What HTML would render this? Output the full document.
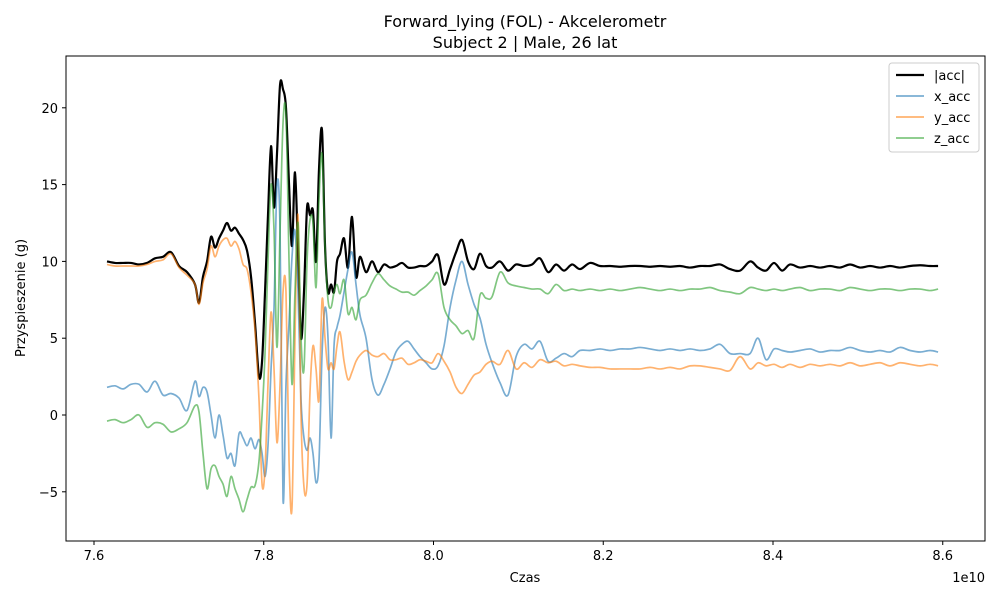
<!DOCTYPE html>
<html><head><meta charset="utf-8"><style>
body{margin:0;background:#fff;font-family:"Liberation Sans","DejaVu Sans",sans-serif}
svg text{font-family:"DejaVu Sans","Liberation Sans",sans-serif;fill:#000}
</style></head><body>
<svg id="chart" width="1000" height="600" viewBox="0 0 1000 600" xmlns="http://www.w3.org/2000/svg">
<rect width="1000" height="600" fill="#fff"/>
<text x="525" y="27" font-size="16" text-anchor="middle">Forward_lying (FOL) - Akcelerometr</text>
<text x="525" y="48" font-size="16" text-anchor="middle">Subject 2 | Male, 26 lat</text>
<g id="plot"></g>
<rect x="66" y="56" width="919" height="485" fill="none" stroke="#000" stroke-width="1"/>
<g id="axes"></g>
<text x="525" y="582" font-size="13" text-anchor="middle">Czas</text>
<text x="985" y="582" font-size="13" text-anchor="end">1e10</text>
<text transform="translate(25,298) rotate(-90)" font-size="13" text-anchor="middle">Przyspieszenie (g)</text>
<g>
<rect x="889" y="63" width="90" height="89" fill="#fff" fill-opacity="0.8" stroke="#ccc" rx="3"/>
<line x1="896" y1="75" x2="924" y2="75" stroke="#000" stroke-width="2.2"/>
<text x="934" y="80" font-size="13">|acc|</text>
<line x1="896" y1="96" x2="924" y2="96" stroke="#1f77b4" stroke-opacity="0.6" stroke-width="1.8"/>
<text x="934" y="101" font-size="13">x_acc</text>
<line x1="896" y1="117" x2="924" y2="117" stroke="#ff7f0e" stroke-opacity="0.6" stroke-width="1.8"/>
<text x="934" y="122" font-size="13">y_acc</text>
<line x1="896" y1="138" x2="924" y2="138" stroke="#2ca02c" stroke-opacity="0.6" stroke-width="1.8"/>
<text x="934" y="143" font-size="13">z_acc</text>
</g>
</svg>
<script>
const times=[7.6153,7.6247,7.6342,7.6436,7.6530,7.6625,7.6719,7.6813,7.6907,7.7002,7.7096,7.7190,7.7237,7.7284,7.7332,7.7379,7.7426,7.7473,7.7520,7.7567,7.7614,7.7661,7.7709,7.7756,7.7803,7.7850,7.7897,7.7944,7.7980,7.8015,7.8050,7.8086,7.8121,7.8156,7.8192,7.8227,7.8262,7.8298,7.8333,7.8368,7.8404,7.8439,7.8474,7.8510,7.8545,7.8580,7.8616,7.8651,7.8687,7.8722,7.8757,7.8793,7.8828,7.8863,7.8899,7.8946,7.8993,7.9040,7.9087,7.9134,7.9205,7.9276,7.9346,7.9417,7.9488,7.9558,7.9629,7.9700,7.9771,7.9841,7.9912,7.9983,8.0053,8.0124,8.0195,8.0266,8.0336,8.0407,8.0478,8.0548,8.0619,8.0690,8.0784,8.0878,8.0973,8.1067,8.1161,8.1255,8.1350,8.1444,8.1538,8.1632,8.1727,8.1844,8.1962,8.2080,8.2198,8.2316,8.2434,8.2551,8.2669,8.2787,8.2905,8.3023,8.3140,8.3258,8.3376,8.3494,8.3612,8.3730,8.3824,8.3918,8.4012,8.4107,8.4201,8.4319,8.4437,8.4554,8.4672,8.4790,8.4908,8.5026,8.5143,8.5261,8.5379,8.5497,8.5615,8.5733,8.5851,8.5945];
const accMag=[10.0,9.9,9.9,9.9,9.8,9.9,10.2,10.3,10.6,9.7,9.3,8.5,7.3,9.0,10.0,11.6,10.9,11.5,12.0,12.5,12.0,12.2,11.8,11.4,10.7,9.0,6.0,2.5,3.5,8.0,13.0,17.5,13.5,17.0,21.5,21.2,20.0,15.0,11.0,15.8,10.5,5.0,8.0,13.5,13.0,13.3,10.0,16.0,18.5,11.0,8.0,8.5,8.0,10.0,10.5,11.5,9.6,12.9,9.0,10.3,9.3,10.0,9.3,9.8,9.6,9.7,9.9,9.6,9.6,9.7,9.7,10.0,10.4,8.5,9.5,10.6,11.4,10.0,9.5,10.5,9.7,9.6,10.0,9.4,9.8,9.7,9.8,10.2,9.3,9.8,9.4,9.8,9.5,9.9,9.7,9.7,9.65,9.7,9.7,9.65,9.7,9.65,9.7,9.6,9.7,9.7,9.8,9.5,9.4,10.0,9.6,9.4,9.9,9.4,9.8,9.6,9.7,9.6,9.7,9.6,9.8,9.6,9.7,9.6,9.7,9.6,9.7,9.75,9.7,9.7];
const xAcc=[1.8,1.9,1.7,2.0,2.0,1.5,2.2,1.3,1.4,1.1,0.3,2.2,1.2,1.8,1.5,0.0,-1.5,0.0,-1.3,-2.8,-2.5,-3.3,-1.2,-1.5,-2.0,-1.5,-2.2,-1.6,-2.5,-4.0,-2.0,3.0,7.0,15.0,12.0,-5.5,2.0,6.0,10.3,12.0,8.0,1.0,-1.5,-2.3,-1.5,-2.5,-4.4,-3.0,4.0,7.0,5.0,-1.5,4.5,5.7,6.5,8.0,9.5,10.6,8.5,6.5,5.0,2.3,1.3,2.0,3.0,4.1,4.6,4.8,4.3,3.8,3.4,3.0,3.2,4.5,7.0,8.8,10.0,8.5,7.2,6.3,4.6,3.4,2.1,1.3,3.8,4.6,4.3,4.8,3.5,3.7,4.0,3.8,4.2,4.2,4.3,4.2,4.3,4.3,4.4,4.3,4.2,4.3,4.2,4.3,4.2,4.3,4.6,4.0,4.0,4.0,5.0,3.6,4.3,4.2,4.1,4.2,4.3,4.1,4.2,4.2,4.4,4.2,4.1,4.2,4.1,4.4,4.2,4.1,4.2,4.1];
const yAcc=[9.8,9.7,9.7,9.7,9.7,9.8,10.0,10.1,10.5,9.6,9.1,8.5,7.2,8.6,9.5,11.0,10.3,11.0,11.4,11.5,11.0,11.3,10.8,9.8,9.5,8.0,5.5,1.0,-4.5,-3.5,2.0,6.7,3.0,-1.8,2.0,8.0,8.0,-3.0,-6.0,5.0,13.0,0.0,-4.7,-4.5,1.5,4.5,3.0,1.0,7.5,5.0,3.0,3.4,3.0,4.5,5.4,3.5,2.3,2.8,3.5,3.9,4.2,3.9,3.8,4.0,3.6,3.6,3.7,3.3,3.4,3.6,3.5,3.4,4.0,3.5,2.8,1.8,1.4,2.0,2.6,2.8,3.3,3.5,3.3,4.2,3.0,3.4,3.1,3.6,3.4,3.5,3.2,3.3,3.2,3.1,3.1,3.0,3.0,3.0,3.0,3.1,3.0,3.1,3.0,3.2,3.2,3.1,3.0,2.9,3.8,3.0,3.4,3.2,3.3,3.1,3.3,3.1,3.3,3.2,3.3,3.2,3.4,3.2,3.3,3.4,3.2,3.4,3.3,3.2,3.3,3.2];
const zAcc=[-0.4,-0.3,-0.5,-0.3,0.0,-0.8,-0.5,-0.6,-1.1,-0.9,-0.5,0.6,0.2,-2.5,-4.8,-3.5,-3.3,-4.0,-4.5,-5.3,-4.0,-4.8,-5.5,-6.3,-5.5,-4.7,-4.6,-3.0,0.0,4.0,10.0,15.0,12.0,4.4,12.0,19.0,19.5,10.0,2.0,8.0,12.5,5.0,3.0,10.0,12.7,12.5,8.3,14.0,17.0,10.9,7.5,7.0,8.0,8.5,7.9,8.8,6.6,7.0,6.2,7.5,7.8,8.6,9.2,8.8,8.4,8.2,8.0,8.0,7.8,8.1,8.4,8.8,9.2,7.0,6.2,5.8,5.3,5.5,5.0,7.8,7.6,7.7,9.3,8.6,8.4,8.3,8.2,8.2,7.9,8.5,8.1,8.2,8.1,8.2,8.1,8.2,8.1,8.2,8.3,8.2,8.1,8.2,8.1,8.2,8.2,8.3,8.1,8.0,7.9,8.3,8.2,8.1,8.2,8.1,8.2,8.3,8.1,8.2,8.2,8.1,8.3,8.2,8.1,8.2,8.2,8.1,8.2,8.2,8.1,8.2];
const xTicks=[7.6,7.8,8.0,8.2,8.4,8.6];
const xTickLabels=["7.6","7.8","8.0","8.2","8.4","8.6"];
const yTicks=[-5,0,5,10,15,20];
const yTickLabels=["\u22125","0","5","10","15","20"];

const NS="http://www.w3.org/2000/svg";
function xScale(t){return 94+(t-7.6)/0.2*169.75;}
function yScale(v){return 415-v*15.36;}
const plot=document.getElementById('plot');
const axes=document.getElementById('axes');
function mk(tag,attrs,parent){const e=document.createElementNS(NS,tag);for(const k in attrs)e.setAttribute(k,attrs[k]);parent.appendChild(e);return e;}
function drawLine(vals,color,op,w,name){
  const P=vals.map((v,i)=>[xScale(times[i]),yScale(v)]);
  let d='M'+P[0][0].toFixed(2)+','+P[0][1].toFixed(2);
  for(let i=0;i<P.length-1;i++){
    const p0=P[Math.max(0,i-1)],p1=P[i],p2=P[i+1],p3=P[Math.min(P.length-1,i+2)];
    const c1=[p1[0]+(p2[0]-p0[0])/6,p1[1]+(p2[1]-p0[1])/6];
    const c2=[p2[0]-(p3[0]-p1[0])/6,p2[1]-(p3[1]-p1[1])/6];
    d+='C'+c1[0].toFixed(2)+','+c1[1].toFixed(2)+' '+c2[0].toFixed(2)+','+c2[1].toFixed(2)+' '+p2[0].toFixed(2)+','+p2[1].toFixed(2);
  }
  const p=mk('path',{d:d,fill:'none',stroke:color,'stroke-opacity':op,'stroke-width':w,'stroke-linejoin':'round'},plot);
  
  
}
drawLine(accMag,'#000',1,2.2,'acc-magnitude-line');
drawLine(xAcc,'#1f77b4',0.6,1.7,'x-acc-line');
drawLine(yAcc,'#ff7f0e',0.6,1.7,'y-acc-line');
drawLine(zAcc,'#2ca02c',0.6,1.7,'z-acc-line');
xTicks.forEach((t,i)=>{
  const x=xScale(t);
  const l=mk('line',{x1:x,y1:541,x2:x,y2:545,stroke:'#000'},axes);
  
  
  const tx=mk('text',{x:x,y:560,'font-size':13,'text-anchor':'middle'},axes);
  tx.textContent=xTickLabels[i];
  
  
});
yTicks.forEach((v,i)=>{
  const y=yScale(v);
  const l=mk('line',{x1:62,y1:y,x2:66,y2:y,stroke:'#000'},axes);
  
  
  const tx=mk('text',{x:58,y:y+5,'font-size':13,'text-anchor':'end'},axes);
  tx.textContent=yTickLabels[i];
  
  
});
</script>
</body></html>
